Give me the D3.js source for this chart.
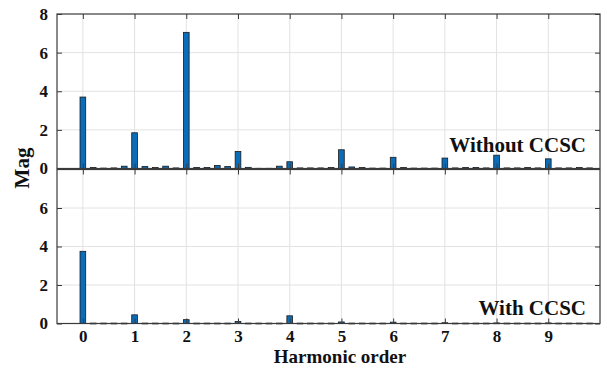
<!DOCTYPE html>
<html><head><meta charset="utf-8">
<script src="https://cdn.jsdelivr.net/npm/d3@7"></script>
<style>body{margin:0;background:#fff}svg{display:block}</style>
</head><body><svg id="c" width="607" height="368"></svg>
<script>
const orders = [0,0.2,0.4,0.6,0.8,1,1.2,1.4,1.6,1.8,2,2.2,2.4,2.6,2.8,3,3.2,3.4,3.6,3.8,4,4.2,4.4,4.6,4.8,5,5.2,5.4,5.6,5.8,6,6.2,6.4,6.6,6.8,7,7.2,7.4,7.6,7.8,8,8.2,8.4,8.6,8.8,9,9.2,9.4,9.6,9.8];
const withoutCCSC = [3.7,0.05,0.02,0.03,0.12,1.85,0.1,0.05,0.12,0.03,7.05,0.05,0.05,0.16,0.1,0.88,0.06,0.01,0.01,0.12,0.35,0.03,0.03,0.03,0.05,0.97,0.08,0.05,0.02,0.02,0.58,0.05,0.02,0.02,0.02,0.54,0.03,0.05,0.05,0.03,0.69,0.03,0.03,0.05,0.03,0.5,0.03,0.03,0.05,0.03];
const withCCSC = [3.75,0.02,0.02,0.02,0.02,0.45,0.02,0.02,0.02,0.02,0.2,0.02,0.02,0.02,0.02,0.1,0.02,0.02,0.02,0.02,0.4,0.02,0.02,0.02,0.02,0.08,0.02,0.02,0.02,0.02,0.07,0.02,0.02,0.02,0.02,0.04,0.02,0.02,0.02,0.02,0.03,0.02,0.02,0.02,0.02,0.03,0.02,0.02,0.02,0.02];
const xTicks = [0,1,2,3,4,5,6,7,8,9];
const yTicksTop = [0,2,4,6,8];
const yTicksBottom = [0,2,4,6];
const panelLabels = ["Without CCSC","With CCSC"];

const FONT = "'Liberation Serif', 'Times New Roman', Times, 'DejaVu Serif', serif";
const svg = d3.select("#c");
const L = 57, R = 600;
const x = d3.scaleLinear().domain([-0.5,10]).range([L,R]);
const panels = [
  {vals: withoutCCSC, top: 14, bottom: 168.5, ticks: yTicksTop, label: panelLabels[0], ly: 152},
  {vals: withCCSC, top: 169.5, bottom: 323.5, ticks: yTicksBottom, label: panelLabels[1], ly: 315}
];
const bw = 0.11*(x(1)-x(0));
const gridC = "#e2e2e2", axC = "#3a3a3a";

function styleText(sel, size){
  sel.style("font-family", FONT).style("font-weight","bold").style("font-size", size+"px").attr("fill","#111");
}

panels.forEach((p,i)=>{
  const y = d3.scaleLinear().domain([0,8]).range([p.bottom,p.top]);
  const g = svg.append("g");
  g.selectAll(".gx").data(xTicks).join("line")
    .attr("x1",d=>x(d)).attr("x2",d=>x(d)).attr("y1",p.top).attr("y2",p.bottom)
    .attr("stroke",gridC).attr("stroke-width",1);
  g.selectAll(".gy").data([2,4,6]).join("line")
    .attr("x1",L).attr("x2",R).attr("y1",d=>y(d)).attr("y2",d=>y(d))
    .attr("stroke",gridC).attr("stroke-width",1);
  g.selectAll(".bar").data(orders.map((o,k)=>({o,v:p.vals[k]}))).join("rect")
    .attr("x",d=>x(d.o)-bw/2).attr("width",bw)
    .attr("y",d=>y(d.v)).attr("height",d=>Math.max(0.8,y(0)-y(d.v)))
    .attr("fill","#0b6cb8").attr("stroke","#1a1a1a").attr("stroke-width",0.8);
  g.append("rect").attr("x",L).attr("y",p.top).attr("width",R-L).attr("height",p.bottom-p.top)
    .attr("fill","none").attr("stroke",axC).attr("stroke-width",1.2);
  const ya = d3.axisLeft(y).tickValues(p.ticks).tickSize(-5).tickPadding(9).tickFormat(d3.format("d"));
  const yg = g.append("g").attr("transform",`translate(${L},0)`).call(ya);
  yg.select(".domain").remove();
  yg.selectAll("line").attr("stroke",axC);
  styleText(yg.selectAll("text"), 17);
  const yr = d3.axisRight(y).tickValues(p.ticks).tickSize(-5).tickFormat("");
  const yrg = g.append("g").attr("transform",`translate(${R},0)`).call(yr);
  yrg.select(".domain").remove(); yrg.selectAll("line").attr("stroke",axC);
  const xt = d3.axisTop(x).tickValues(xTicks).tickSize(-5).tickFormat("");
  const xtg = g.append("g").attr("transform",`translate(0,${p.top})`).call(xt);
  xtg.select(".domain").remove(); xtg.selectAll("line").attr("stroke",axC);
  const xb = d3.axisBottom(x).tickValues(xTicks).tickSize(-5).tickPadding(6).tickFormat(i===1?d3.format("d"):"");
  const xbg = g.append("g").attr("transform",`translate(0,${p.bottom})`).call(xb);
  xbg.select(".domain").remove(); xbg.selectAll("line").attr("stroke",axC);
  styleText(xbg.selectAll("text"), 17);
  styleText(g.append("text").attr("x",586).attr("y",p.ly).attr("text-anchor","end").text(p.label), 21);
});

styleText(svg.append("text").attr("x",340).attr("y",363).attr("text-anchor","middle").text("Harmonic order"), 19);
styleText(svg.append("text").attr("transform","translate(29,168) rotate(-90)").attr("text-anchor","middle").text("Mag"), 21);
</script></body></html>
